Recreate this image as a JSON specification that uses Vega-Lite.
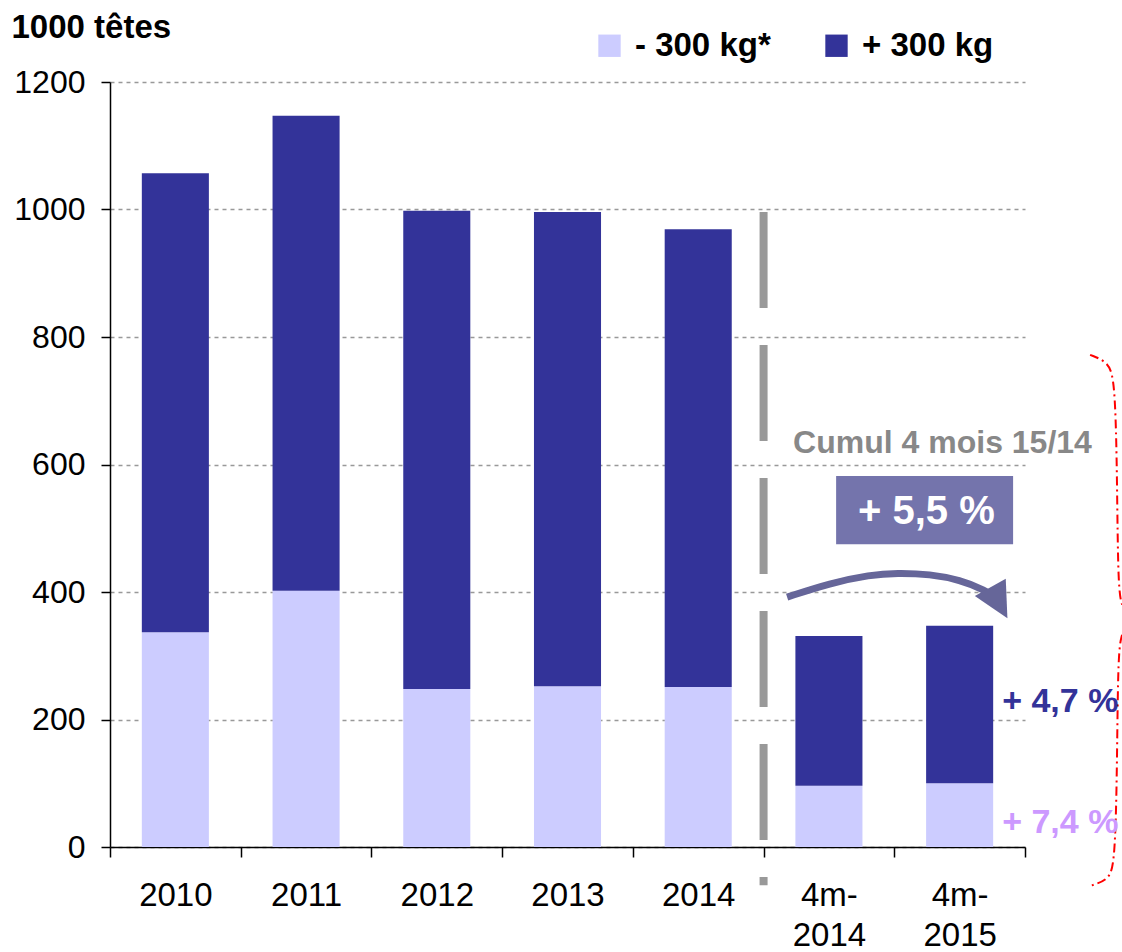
{
  "$schema": "https://vega.github.io/schema/vega-lite/v6.json",
  "width": 915,
  "height": 765,
  "autosize": {"type": "none"},
  "padding": {"left": 110, "top": 82, "right": 97, "bottom": 105},
  "background": "white",
  "config": {
    "font": "Liberation Sans",
    "view": {"stroke": null},
    "axis": {"labelColor": "black", "domainColor": "black", "tickColor": "black", "domainWidth": 1.5, "tickWidth": 1.5, "labelFont": "Liberation Sans", "titleFont": "Liberation Sans"},
    "legend": {"labelFont": "Liberation Sans"}
  },
  "datasets": {
    "bars": [
      {"period": "2010", "cat": "- 300 kg*", "value": 337},
      {"period": "2010", "cat": "+ 300 kg", "value": 720},
      {"period": "2011", "cat": "- 300 kg*", "value": 402},
      {"period": "2011", "cat": "+ 300 kg", "value": 745},
      {"period": "2012", "cat": "- 300 kg*", "value": 248},
      {"period": "2012", "cat": "+ 300 kg", "value": 750},
      {"period": "2013", "cat": "- 300 kg*", "value": 252},
      {"period": "2013", "cat": "+ 300 kg", "value": 744},
      {"period": "2014", "cat": "- 300 kg*", "value": 251},
      {"period": "2014", "cat": "+ 300 kg", "value": 718},
      {"period": "4m-2014", "cat": "- 300 kg*", "value": 96},
      {"period": "4m-2014", "cat": "+ 300 kg", "value": 235},
      {"period": "4m-2015", "cat": "- 300 kg*", "value": 100},
      {"period": "4m-2015", "cat": "+ 300 kg", "value": 247}
    ],
    "braces": [
      {"part": "a", "i": 0, "xq": 7.498, "value": 772},
      {"part": "a", "i": 1, "xq": 7.636, "value": 761},
      {"part": "a", "i": 2, "xq": 7.689, "value": 733},
      {"part": "a", "i": 3, "xq": 7.705, "value": 576},
      {"part": "a", "i": 4, "xq": 7.712, "value": 403},
      {"part": "a", "i": 5, "xq": 7.743, "value": 380},
      {"part": "b", "i": 0, "xq": 7.743, "value": 333},
      {"part": "b", "i": 1, "xq": 7.712, "value": 309},
      {"part": "b", "i": 2, "xq": 7.705, "value": 137},
      {"part": "b", "i": 3, "xq": 7.689, "value": -28},
      {"part": "b", "i": 4, "xq": 7.636, "value": -52},
      {"part": "b", "i": 5, "xq": 7.498, "value": -61}
    ],
    "arrow": [
      {"i": 0, "xq": 5.18, "value": 392},
      {"i": 1, "xq": 5.509, "value": 414},
      {"i": 2, "xq": 5.815, "value": 427},
      {"i": 3, "xq": 6.021, "value": 430},
      {"i": 4, "xq": 6.274, "value": 428},
      {"i": 5, "xq": 6.503, "value": 419},
      {"i": 6, "xq": 6.695, "value": 403},
      {"i": 7, "xq": 6.79, "value": 390}
    ]
  },
  "layer": [
    {
      "data": {"name": "bars"},
      "mark": {"type": "bar", "width": {"band": 0.513}},
      "encoding": {
        "x": {
          "field": "period", "type": "nominal", "sort": null,
          "scale": {"paddingInner": 0, "paddingOuter": 0},
          "axis": {
            "title": null, "labelAngle": 0, "tickBand": "extent", "tickExtra": true, "tickSize": 10,
            "labelFontSize": 33, "labelPadding": 22, "labelLineHeight": 40, "grid": false,
            "labelExpr": "indexof(datum.label,'4m')==0 ? ['4m-', slice(datum.label,3)] : datum.label"
          }
        },
        "y": {
          "field": "value", "type": "quantitative", "title": "1000 têtes",
          "scale": {"domain": [0, 1200], "nice": false, "zero": false},
          "axis": {
            "values": [0, 200, 400, 600, 800, 1000, 1200], "format": "d", "tickSize": 9,
            "labelPadding": 16, "labelFontSize": 32, "grid": true, "gridDash": [4, 4],
            "gridColor": "#999999", "gridWidth": 1.5,
            "titleAngle": 0, "titleAlign": "left", "titleBaseline": "alphabetic",
            "titleX": -99, "titleY": -45, "titleFontSize": 33, "titleFontWeight": "bold", "titleColor": "black", "titleLimit": 400
          }
        },
        "color": {
          "field": "cat", "type": "nominal",
          "scale": {"domain": ["- 300 kg*", "+ 300 kg"], "range": ["#CCCCFF", "#333399"]},
          "legend": {
            "orient": "none", "legendX": 483, "legendY": -53, "direction": "horizontal",
            "title": null, "symbolType": "square", "symbolSize": 500, "symbolStrokeWidth": 0,
            "symbolOpacity": 1, "labelFontSize": 33, "labelFontWeight": "bold", "labelColor": "black",
            "labelOffset": 9, "columnPadding": 49, "padding": 0, "labelLimit": 300
          }
        },
        "order": {"field": "cat", "sort": "descending"}
      }
    },
    {
      "data": {"values": [{"xq": 5, "value": 996, "value2": -60}]},
      "mark": {"type": "rule", "color": "#999999", "strokeWidth": 8, "strokeDash": [96, 37], "strokeCap": "butt"},
      "encoding": {
        "x": {"field": "xq", "type": "quantitative", "scale": {"domain": [0, 7], "nice": false, "zero": false}, "axis": null},
        "y": {"field": "value", "type": "quantitative", "title": "1000 têtes", "scale": {"domain": [0, 1200], "nice": false, "zero": false}},
        "y2": {"field": "value2"}
      }
    },
    {
      "data": {"name": "braces"},
      "mark": {"type": "line", "color": "#FF0000", "strokeWidth": 2, "strokeDash": [9, 4, 2, 4], "interpolate": "basis"},
      "encoding": {
        "x": {"field": "xq", "type": "quantitative", "scale": {"domain": [0, 7], "nice": false, "zero": false}, "axis": null},
        "y": {"field": "value", "type": "quantitative", "title": "1000 têtes", "scale": {"domain": [0, 1200], "nice": false, "zero": false}},
        "detail": {"field": "part"},
        "order": {"field": "i"}
      }
    },
    {
      "data": {"name": "arrow"},
      "mark": {"type": "line", "color": "#666699", "strokeWidth": 7, "interpolate": "basis", "strokeCap": "butt"},
      "encoding": {
        "x": {"field": "xq", "type": "quantitative", "scale": {"domain": [0, 7], "nice": false, "zero": false}, "axis": null},
        "y": {"field": "value", "type": "quantitative", "title": "1000 têtes", "scale": {"domain": [0, 1200], "nice": false, "zero": false}},
        "order": {"field": "i"}
      }
    },
    {
      "data": {"values": [{"xq": 6.8, "value": 383}]},
      "mark": {"type": "point", "shape": "M -1 -1 L 1 0 L -1 1 Z", "filled": true, "color": "#666699", "opacity": 1, "size": 1250, "angle": 61},
      "encoding": {
        "x": {"field": "xq", "type": "quantitative", "scale": {"domain": [0, 7], "nice": false, "zero": false}, "axis": null},
        "y": {"field": "value", "type": "quantitative", "title": "1000 têtes", "scale": {"domain": [0, 1200], "nice": false, "zero": false}}
      }
    },
    {
      "data": {"values": [{"xq": 5.555, "xq2": 6.909, "value": 582, "value2": 475}]},
      "mark": {"type": "rect", "color": "#7474AC"},
      "encoding": {
        "x": {"field": "xq", "type": "quantitative", "scale": {"domain": [0, 7], "nice": false, "zero": false}, "axis": null},
        "x2": {"field": "xq2"},
        "y": {"field": "value", "type": "quantitative", "title": "1000 têtes", "scale": {"domain": [0, 1200], "nice": false, "zero": false}},
        "y2": {"field": "value2"}
      }
    },
    {
      "data": {"values": [{"label": "+ 5,5 %", "xq": 6.245, "value": 525}]},
      "mark": {"type": "text", "color": "white", "fontSize": 40, "fontWeight": "bold", "align": "center", "baseline": "middle"},
      "encoding": {
        "x": {"field": "xq", "type": "quantitative", "scale": {"domain": [0, 7], "nice": false, "zero": false}, "axis": null},
        "y": {"field": "value", "type": "quantitative", "title": "1000 têtes", "scale": {"domain": [0, 1200], "nice": false, "zero": false}},
        "text": {"field": "label"}
      }
    },
    {
      "data": {"values": [{"label": "Cumul 4 mois 15/14", "xq": 5.226, "value": 634}]},
      "mark": {"type": "text", "color": "#888888", "fontSize": 32, "fontWeight": "bold", "align": "left", "baseline": "middle"},
      "encoding": {
        "x": {"field": "xq", "type": "quantitative", "scale": {"domain": [0, 7], "nice": false, "zero": false}, "axis": null},
        "y": {"field": "value", "type": "quantitative", "title": "1000 têtes", "scale": {"domain": [0, 1200], "nice": false, "zero": false}},
        "text": {"field": "label"}
      }
    },
    {
      "data": {"values": [{"label": "+ 4,7 %", "xq": 6.825, "value": 227}]},
      "mark": {"type": "text", "color": "#333399", "fontSize": 34, "fontWeight": "bold", "align": "left", "baseline": "middle"},
      "encoding": {
        "x": {"field": "xq", "type": "quantitative", "scale": {"domain": [0, 7], "nice": false, "zero": false}, "axis": null},
        "y": {"field": "value", "type": "quantitative", "title": "1000 têtes", "scale": {"domain": [0, 1200], "nice": false, "zero": false}},
        "text": {"field": "label"}
      }
    },
    {
      "data": {"values": [{"label": "+ 7,4 %", "xq": 6.825, "value": 38}]},
      "mark": {"type": "text", "color": "#CC99FF", "fontSize": 34, "fontWeight": "bold", "align": "left", "baseline": "middle"},
      "encoding": {
        "x": {"field": "xq", "type": "quantitative", "scale": {"domain": [0, 7], "nice": false, "zero": false}, "axis": null},
        "y": {"field": "value", "type": "quantitative", "title": "1000 têtes", "scale": {"domain": [0, 1200], "nice": false, "zero": false}},
        "text": {"field": "label"}
      }
    }
  ],
  "resolve": {"scale": {"x": "independent"}, "axis": {"x": "independent"}}
}
